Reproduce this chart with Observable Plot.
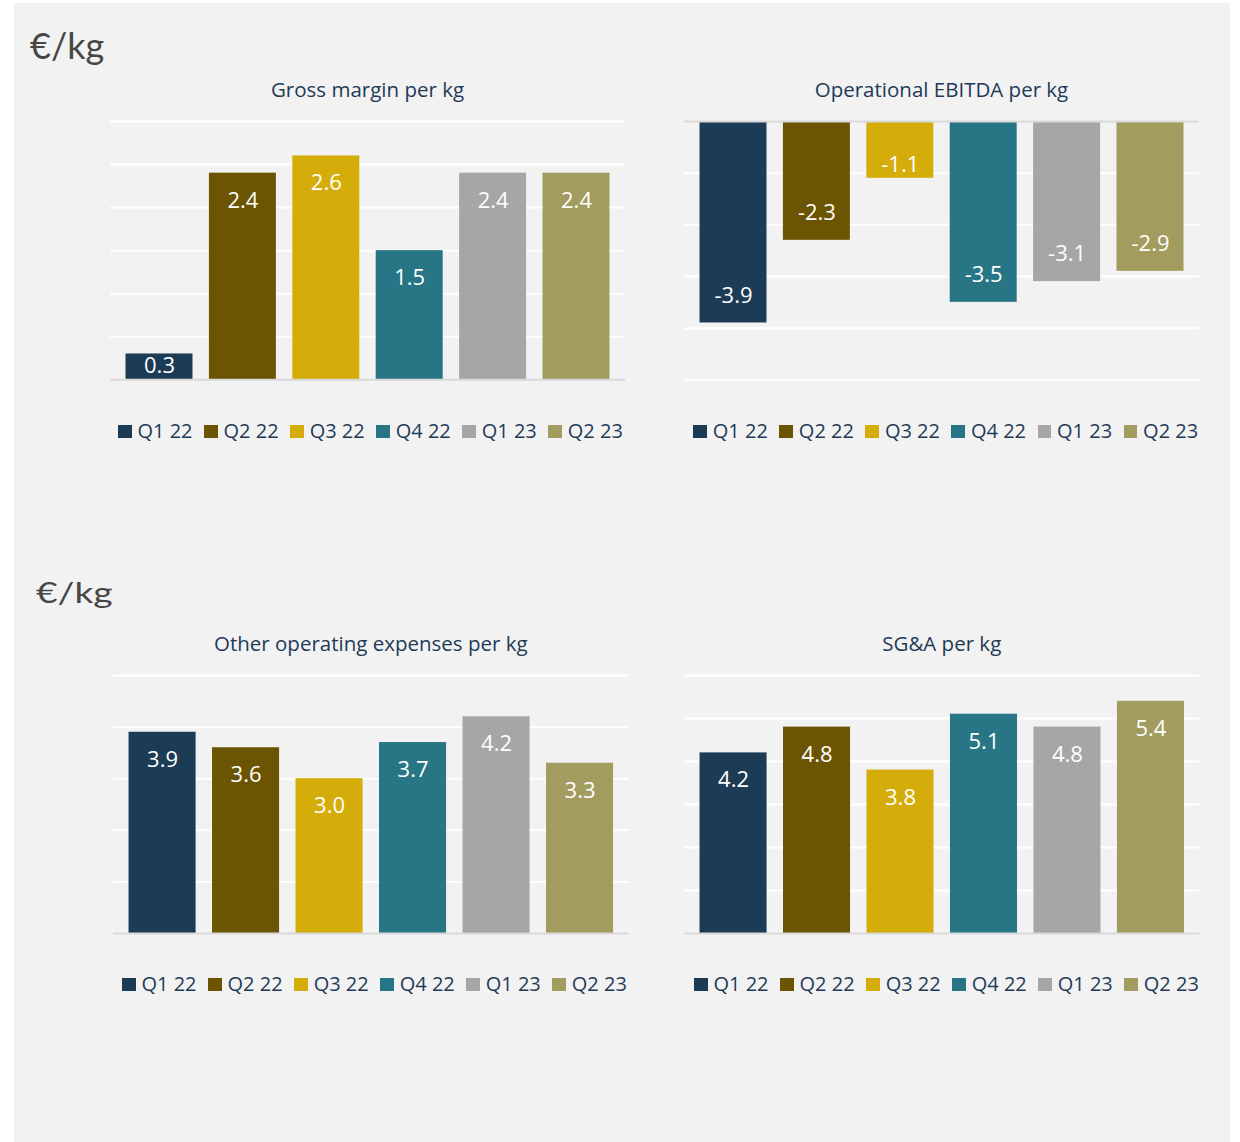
<!DOCTYPE html>
<html>
<head>
<meta charset="utf-8">
<script src="https://cdn.jsdelivr.net/npm/d3@7"></script>
<script src="https://cdn.jsdelivr.net/npm/@observablehq/plot@0.6"></script>
<style>
  html, body { margin: 0; padding: 0; background: #ffffff; }
  body { width: 1240px; height: 1142px; position: relative; overflow: hidden; }
  #panel { position: absolute; left: 14px; top: 3px; width: 1216px; height: 1139px; background: #f2f2f2; }
  .abs { position: absolute; }
  .unit { font-family: Lato, "Open Sans", sans-serif; font-weight: 400; color: #474747; line-height: 1; white-space: nowrap; }
  .title { font-family: "Open Sans", sans-serif; font-size: 20.5px; color: #1f3a57; line-height: 1; text-align: center; white-space: nowrap; }
  .legend { font-family: "Open Sans", sans-serif; font-size: 20px; color: #1f3a57; line-height: 1; white-space: nowrap; display: flex; }
  .legend .item { margin-right: 11.5px; }
  .legend .sw { display: inline-block; width: 13.5px; height: 13.5px; margin-right: 6px; vertical-align: baseline; }
  svg { overflow: visible; }
</style>
</head>
<body>
<div id="panel"></div>
<script>
// ---- data ----
const quarters = ["Q1 22", "Q2 22", "Q3 22", "Q4 22", "Q1 23", "Q2 23"];
const palette = ["#1c3b55", "#6b5503", "#d5ad0b", "#287585", "#a6a6a6", "#a39c5f"];
const unitLabel = "€/kg";
const titles = ["Gross margin per kg", "Operational EBITDA per kg", "Other operating expenses per kg", "SG&A per kg"];
const grossMargin = [0.3, 2.4, 2.6, 1.5, 2.4, 2.4];
const operationalEbitda = [-3.9, -2.3, -1.1, -3.5, -3.1, -2.9];
const otherOpex = [3.9, 3.6, 3.0, 3.7, 4.2, 3.3];
const sga = [4.2, 4.8, 3.8, 5.1, 4.8, 5.4];
const grossTicks = [0, 0.5, 1, 1.5, 2, 2.5, 3];
const ebitdaTicks = [-5, -4, -3, -2, -1, 0];
const opexTicks = [0, 1, 2, 3, 4, 5];
const sgaTicks = [0, 1, 2, 3, 4, 5, 6];

const body = document.body;

function el(cls, style, html) {
  const d = document.createElement("div");
  d.className = cls;
  Object.assign(d.style, style);
  if (html != null) d.innerHTML = html;
  body.appendChild(d);
  return d;
}

function chart({values, ticks, left, right, yTop, yBottom, title, titleTop, legendLeft, legendTop}) {
  const width = right - left;
  const plotH = yBottom - yTop;
  const m = 12;
  const domain = [d3.min(ticks), d3.max(ticks)];
  const pxPerUnit = plotH / (domain[1] - domain[0]);
  const data = quarters.map((q, i) => ({q, v: values[i]}));
  const labelY = d => {
    const h = Math.abs(d.v) * pxPerUnit;
    const off = h >= 60 ? 27.5 : Math.min(13, h * 0.45);
    return d.v - Math.sign(d.v) * off / pxPerUnit;
  };
  const svg = Plot.plot({
    width, height: plotH + 2 * m,
    marginLeft: 0, marginRight: 0, marginTop: m, marginBottom: m,
    style: {background: "transparent", overflow: "visible"},
    x: {type: "band", domain: quarters, paddingInner: 0.197, paddingOuter: 0.186, round: false, axis: null},
    y: {domain, axis: null},
    color: {domain: quarters, range: palette},
    marks: [
      Plot.ruleY(ticks.filter(t => t !== 0), {stroke: "#ffffff", strokeWidth: 2}),
      Plot.barY(data, {x: "q", y: "v", fill: "q"}),
      Plot.ruleY([0], {stroke: "#d9d9d9", strokeWidth: 2}),
      Plot.text(data, {x: "q", y: labelY, text: d => d.v.toFixed(1), fill: "#ffffff",
        fontSize: 22, fontFamily: "Open Sans, sans-serif"})
    ]
  });
  const wrap = el("abs", {left: left + "px", top: (yTop - m) + "px", width: width + "px"});
  wrap.appendChild(svg);
  el("abs title", {left: left + "px", top: titleTop + "px", width: width + "px"}, title);
  const lg = el("abs legend", {left: legendLeft + "px", top: legendTop + "px"});
  quarters.forEach((q, i) => {
    const it = document.createElement("span");
    it.className = "item";
    it.innerHTML = `<span class="sw" style="background:${palette[i]}"></span>${q}`;
    lg.appendChild(it);
  });
}

// unit headings
el("abs unit", {left: "30px", top: "27px", fontSize: "36px"}, unitLabel);
el("abs unit", {left: "36px", top: "578px", fontSize: "28px", transform: "scaleX(1.33)", transformOrigin: "0 0"}, unitLabel);

chart({values: grossMargin, ticks: grossTicks, left: 110, right: 625, yTop: 121, yBottom: 379.3,
  title: titles[0], titleTop: 78.8, legendLeft: 118, legendTop: 421.2});
chart({values: operationalEbitda, ticks: ebitdaTicks, left: 684, right: 1199, yTop: 121, yBottom: 379.3,
  title: titles[1], titleTop: 78.8, legendLeft: 693.3, legendTop: 421.2});
chart({values: otherOpex, ticks: opexTicks, left: 113, right: 628.6, yTop: 675, yBottom: 933,
  title: titles[2], titleTop: 632.8, legendLeft: 122, legendTop: 974.2});
chart({values: sga, ticks: sgaTicks, left: 684, right: 1199.5, yTop: 675, yBottom: 933,
  title: titles[3], titleTop: 632.8, legendLeft: 694, legendTop: 974.2});
</script>
</body>
</html>
